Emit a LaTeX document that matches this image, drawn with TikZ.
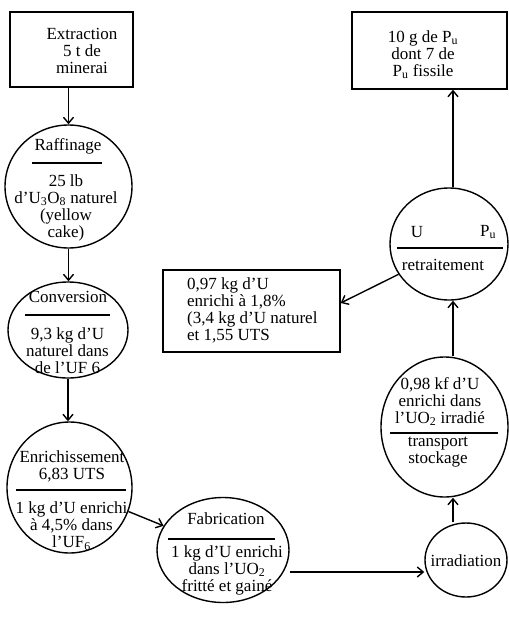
\documentclass[tikz,border=0pt]{standalone}
\usepackage{fontspec}
\setmainfont{Liberation Serif}
\usetikzlibrary{shapes.geometric,arrows.meta}
\newcommand\lowsub[1]{\textsubscript{#1}}
\begin{document}
\begin{tikzpicture}[x=1pt,y=-1pt,
  every node/.style={font=\fontsize{17}{17}\selectfont},
  box/.style={draw,line width=1.4pt,rectangle,inner sep=0},
  oval/.style={draw,line width=1.4pt,ellipse,inner sep=0},
  txt/.style={align=center,inner sep=0},
  arr/.style={line width=1.4pt,-{Straight Barb[length=6pt,width=10pt]}},
  sep/.style={line width=1.1pt}]
\useasboundingbox (0,0) rectangle (509,619);

% boxes
\node[box,minimum width=123pt,minimum height=75pt] (ext) at (71.5,49.5) {};
\node[txt] (extT) at (82,51) {Extraction\\5 t de\\minerai};

\node[box,minimum width=155pt,minimum height=77pt] (pu) at (429.5,50.5) {};
\node[txt] (puT) at (423,54.5) {10 g de P\lowsub{u}\\dont 7 de\\P\lowsub{u} fissile};

\node[box,minimum width=177pt,minimum height=82pt] (out) at (251.5,311) {};
\node[txt,align=left,anchor=west] (outT) at (187,310) {0,97 kg d’U\\enrichi à 1,8\%\\(3,4 kg d’U naturel\\et 1,55 UTS};

% circles
\node[oval,minimum width=127pt,minimum height=123pt] (raf) at (68.5,186.5) {};
\node[txt] (rafA) at (68,146) {Raffinage};
\draw[sep] (32,163) -- (102,163);
\node[txt] (rafB) at (66,207.5) {25 lb\\d’U\lowsub{3}O\lowsub{8} naturel\\(yellow\\cake)};

\node[oval,minimum width=120pt,minimum height=96pt] (conv) at (68,330) {};
\node[txt] (convA) at (68,297) {Conversion};
\draw[sep] (25,315) -- (110,315);
\node[txt] (convB) at (67.5,351) {9,3 kg d’U\\naturel dans\\de l’UF 6};

\node[oval,minimum width=125pt,minimum height=131pt] (enr) at (69.5,487.5) {};
\node[txt] (enrA) at (72,466.5) {Enrichissement\\6,83 UTS};
\draw[sep] (16,490) -- (126,490);
\node[txt] (enrB) at (71.5,526) {1 kg d’U enrichi\\à 4,5\% dans\\l’UF\lowsub{6}};

\node[oval,minimum width=132pt,minimum height=105pt] (fab) at (223,550) {};
\node[txt] (fabA) at (226,519) {Fabrication};
\draw[sep] (168,539) -- (275,539);
\node[txt] (fabB) at (227,570) {1 kg d’U enrichi\\dans l’UO\lowsub{2}\\fritté et gainé};

\node[oval,minimum width=82pt,minimum height=74pt] (irr) at (466,560) {};
\node[txt] (irrT) at (466,561) {irradiation};

\node[oval,minimum width=127pt,minimum height=140pt] (tr) at (444.5,427) {};
\node[txt] (trA) at (440,401.5) {0,98 kf d’U\\enrichi dans\\l’UO\lowsub{2} irradié};
\draw[sep] (390,433) -- (498,433);
\node[txt] (trB) at (438,452.5) {transport\\stockage};

\node[oval,minimum width=118pt,minimum height=112pt] (ret) at (449,244) {};
\node[txt] (retU) at (417,232) {U};
\node[txt] (retP) at (488,232) {P\lowsub{u}};
\draw[sep] (397,248) -- (503,248);
\node[txt] (retT) at (443,265) {retraitement};

% connectors
\draw[arr] (ext.south -| raf.north) -- (raf.north);
\draw[arr] (raf.south) -- (raf.south |- conv.north);
\draw[arr] (conv.south) -- (conv.south |- enr.north);
\draw[arr] (enr) -- (fab);
\draw[arr] ([yshift=-22pt]fab.east) -- ([yshift=-22pt]fab.east -| irr.west);
\draw[arr] ([xshift=-13pt]irr.north) -- ([xshift=-13pt]irr.north |- tr.south);
\draw[arr] ([xshift=8.5pt]tr.north) -- ([xshift=8.5pt]tr.north |- ret.south);
\draw[arr] (ret.211) -- ([yshift=8pt]out.east);
\draw[arr] ([xshift=4pt]ret.north) -- ([xshift=4pt]ret.north |- pu.south);
\end{tikzpicture}
\end{document}
